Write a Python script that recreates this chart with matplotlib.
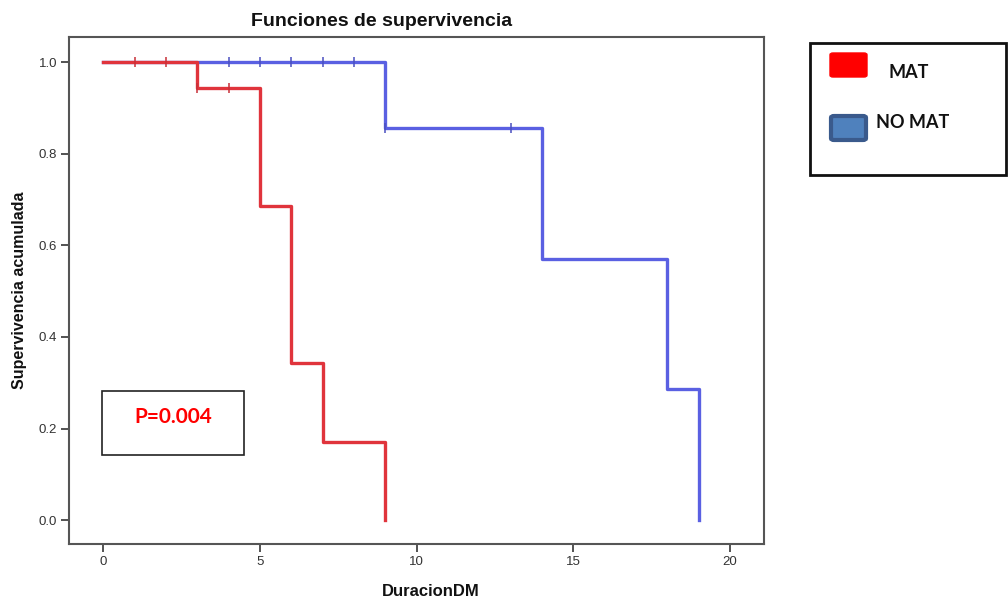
import matplotlib
matplotlib.use("Agg")
import matplotlib.pyplot as plt
from matplotlib.patches import Rectangle, FancyBboxPatch

# ---- data ----
mat_times = [0, 3, 5, 6, 7, 9]
mat_surv = [1.0, 0.944, 0.686, 0.343, 0.171, 0.0]
mat_cens_t = [1, 2, 3, 4]
mat_cens_s = [1.0, 1.0, 0.944, 0.944]

nomat_times = [0, 9, 14, 18, 19]
nomat_surv = [1.0, 0.857, 0.571, 0.286, 0.0]
nomat_cens_t = [4, 5, 6, 7, 8, 9, 13]
nomat_cens_s = [1.0, 1.0, 1.0, 1.0, 1.0, 0.857, 0.857]

x_ticks = [0, 5, 10, 15, 20]
y_ticks = [0.0, 0.2, 0.4, 0.6, 0.8, 1.0]
group_labels = ["MAT", "NO MAT"]
p_text = "P=0.004"

RED = "#e0343c"
BLUE = "#5a60e2"

W, H = 1008, 602
fig = plt.figure(figsize=(W / 100, H / 100), dpi=100)
ax = fig.add_axes([69 / W, 1 - 544 / H, (764 - 69) / W, (544 - 37) / H])

ax.step(nomat_times, nomat_surv, where="post", color=BLUE, lw=2.4, zorder=2)
ax.plot(nomat_cens_t, nomat_cens_s, ls="none", marker="|", ms=6.5, mew=1.1,
        color="#4a50c0", zorder=3)
ax.step(mat_times, mat_surv, where="post", color=RED, lw=2.4, zorder=4)
ax.plot(mat_cens_t, mat_cens_s, ls="none", marker="|", ms=6.5, mew=1.1,
        color="#c83038", zorder=5)

ax.set_xlim(-1.09, 21.08)
ax.set_ylim(-0.052, 1.055)
ax.set_xticks(x_ticks)
ax.set_xticklabels([str(t) for t in x_ticks], family="Liberation Sans")
ax.set_yticks(y_ticks)
ax.set_yticklabels([f"{t:.1f}" for t in y_ticks], family="Liberation Sans")
ax.tick_params(direction="out", length=6, width=1.3, color="#444444",
               labelsize=9.5, labelcolor="#333333", pad=2.5)
for s in ax.spines.values():
    s.set_color("#555555")
    s.set_linewidth(1.5)

fig.text(382 / W, 1 - 21 / H, "Funciones de supervivencia", ha="center",
         va="center", fontsize=14, fontweight="bold", family="Liberation Sans",
         color="#111111")
fig.text(431 / W, 1 - 591 / H, "DuracionDM", ha="center", va="center",
         fontsize=12, fontweight="bold", family="Liberation Sans", color="#111111")
fig.text(20 / W, 1 - 290 / H, "Supervivencia acumulada", ha="center",
         va="center", rotation=90, fontsize=11.5, fontweight="bold",
         family="Liberation Sans", color="#111111")

# P-value box
fig.patches.append(Rectangle((102 / W, 1 - 455 / H), (244 - 102) / W,
                             (455 - 391) / H, transform=fig.transFigure,
                             fill=False, ec="#222222", lw=1.2))
fig.text(173 / W, 1 - 417 / H, p_text, ha="center", va="center",
         fontsize=15, fontweight="bold", family="Lato", color="#ff0000")

# legend box
fig.patches.append(Rectangle((810 / W, 1 - 175 / H), (1006 - 810) / W,
                             (175 - 43) / H, transform=fig.transFigure,
                             fill=False, ec="#111111", lw=2))
fig.patches.append(FancyBboxPatch((830 / W, 1 - 77 / H), (867 - 830) / W,
                                  (77 - 53) / H, transform=fig.transFigure,
                                  boxstyle="round,pad=0,rounding_size=0.003",
                                  fc="#ff0000", ec="#ff0000", lw=1))
fig.patches.append(FancyBboxPatch((831 / W, 1 - 140 / H), (866 - 831) / W,
                                  (140 - 116) / H, transform=fig.transFigure,
                                  boxstyle="round,pad=0,rounding_size=0.003",
                                  fc="#4f81bd", ec="#3a5a8c", lw=3))
fig.text(888 / W, 1 - 73 / H, group_labels[0], ha="left", va="center",
         fontsize=13, fontweight="bold", family="Lato", color="#111111")
fig.text(876 / W, 1 - 123 / H, group_labels[1], ha="left", va="center",
         fontsize=13, fontweight="bold", family="Lato", color="#111111")

fig.savefig("out.png", dpi=100)
